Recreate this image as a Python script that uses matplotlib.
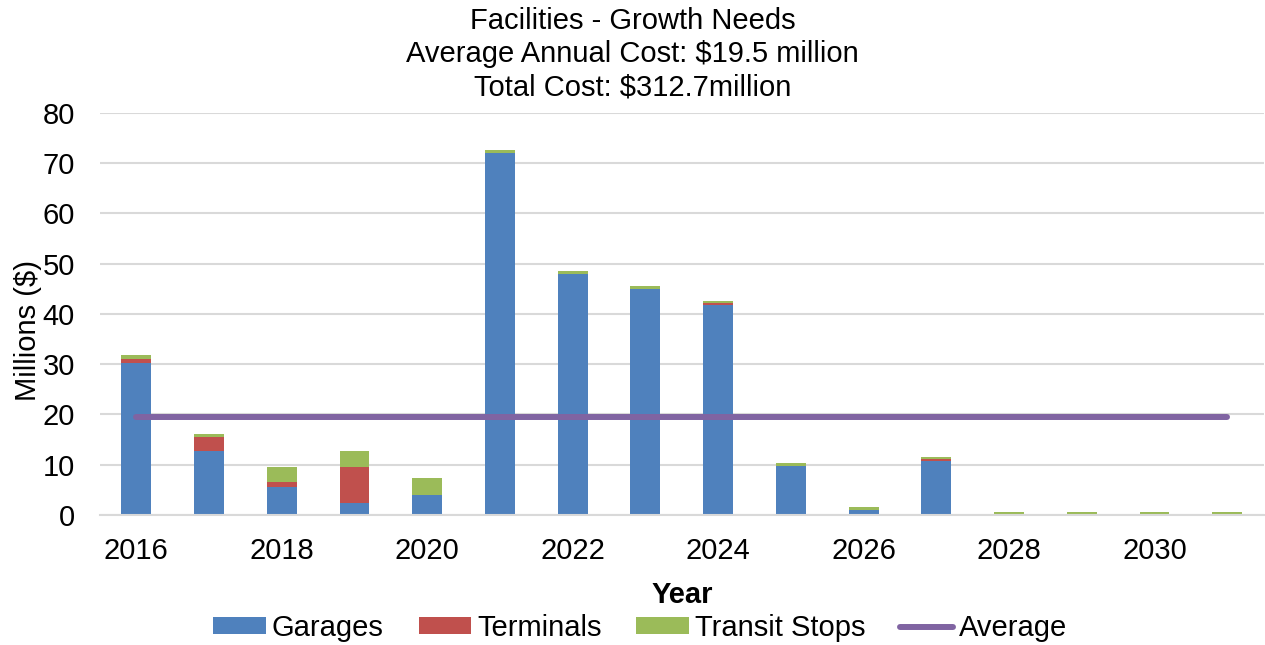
import numpy as np
import matplotlib.pyplot as plt

years = list(range(2016, 2032))
garages = [30.2, 12.8, 5.6, 2.3, 3.9, 72.0, 48.0, 45.0, 41.8, 9.8, 0.9, 10.8, 0, 0, 0, 0]
terminals = [0.9, 2.8, 1.0, 7.2, 0, 0, 0, 0, 0.4, 0, 0, 0.4, 0, 0, 0, 0]
transit_stops = [0.7, 0.6, 3.0, 3.3, 3.4, 0.6, 0.6, 0.6, 0.4, 0.6, 0.6, 0.4, 0.5, 0.5, 0.5, 0.5]
average_cost = 19.5
total_cost = 312.7

plt.rcParams["font.family"] = ["Liberation Sans", "DejaVu Sans"]
plt.rcParams["font.size"] = 21

fig = plt.figure(figsize=(12.65, 6.45), dpi=100)
ax = fig.add_axes([0.079, 0.2016, 0.9199, 0.6232])

x = np.array(years)
g = np.array(garages)
t = np.array(terminals)
s = np.array(transit_stops)
width = 0.41

bars_g = ax.bar(x, g, width, color="#4F81BD", label="Garages", zorder=2)
bars_t = ax.bar(x, t, width, bottom=g, color="#C0504D", label="Terminals", zorder=2)
bars_s = ax.bar(x, s, width, bottom=g + t, color="#9BBB59", label="Transit Stops", zorder=2)
avg_line, = ax.plot([years[0], years[-1]], [average_cost, average_cost], color="#8064A2",
                    lw=4.3, solid_capstyle="round", label="Average", zorder=3)

ax.set_xlim(2015.5, 2031.5)
ax.set_ylim(0, 80)
ax.set_yticks(range(0, 81, 10))
ax.set_xticks(range(2016, 2031, 2))
ax.tick_params(axis="both", length=0)
ax.tick_params(axis="y", pad=18)
ax.tick_params(axis="x", pad=16)
ax.grid(axis="y", color="#D9D9D9", lw=1.5, zorder=0)
for side in ["top", "right", "left"]:
    ax.spines[side].set_visible(False)
ax.spines["bottom"].set_color("#D9D9D9")
ax.spines["bottom"].set_linewidth(1.5)

ax.set_ylabel("Millions ($)")
ax.yaxis.set_label_coords(-0.05, 0.46)
ax.set_xlabel("Year", fontweight="bold")
ax.xaxis.set_label_coords(0.5, -0.165)

fig.text(0.5, 1 - 54 / 645,
         "Facilities - Growth Needs\n"
         "Average Annual Cost: $" + str(average_cost) + " million\n"
         "Total Cost: $" + str(total_cost) + "million",
         ha="center", va="center", linespacing=1.24)

fig.legend(handles=[bars_g, bars_t, bars_s, avg_line],
           loc="center", bbox_to_anchor=(0.506, 1 - 628 / 645), ncol=4,
           frameon=False, handlelength=1.8, handleheight=0.5,
           handletextpad=0.2, columnspacing=1.2, borderpad=0)

plt.savefig("out.png", dpi=100)
